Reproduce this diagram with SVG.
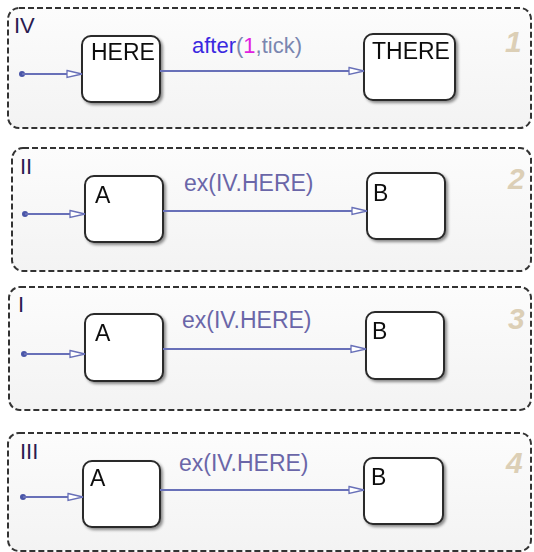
<svg xmlns="http://www.w3.org/2000/svg" width="534" height="552" viewBox="0 0 534 552">
<defs>
<linearGradient id="pbg" x1="0" y1="0" x2="0" y2="1">
<stop offset="0" stop-color="#fcfcfc"/><stop offset="1" stop-color="#f3f3f3"/>
</linearGradient>
<filter id="sh" x="-20%" y="-20%" width="150%" height="150%">
<feGaussianBlur in="SourceAlpha" stdDeviation="1.5"/>
<feOffset dx="2" dy="2" result="b"/>
<feComponentTransfer><feFuncA type="linear" slope="0.45"/></feComponentTransfer>
<feMerge><feMergeNode/><feMergeNode in="SourceGraphic"/></feMerge>
</filter>
<marker id="ah" markerWidth="18" markerHeight="10" refX="16" refY="5" orient="auto" markerUnits="userSpaceOnUse">
<path d="M1,1.5 L16,5 L1,8.5 Z" fill="#ffffff" stroke="#6870b8" stroke-width="1.3"/>
</marker>
</defs>
<style>
.panel{fill:url(#pbg);stroke:#333;stroke-width:2;stroke-dasharray:6,3}
.box{fill:#ffffff;stroke:#2a2a2a;stroke-width:2}
.tr{fill:none;stroke:#6870b8;stroke-width:1.8}
.dot{fill:#4a56a8}
.t{font-family:"Liberation Sans",Arial,sans-serif;font-size:23px;fill:#111}
.pl{font-family:"Liberation Sans",Arial,sans-serif;font-size:22px;fill:#2a1a50}
.lab{font-family:"Liberation Sans",Arial,sans-serif;font-size:23px;fill:#6a66a8}
.num{font-family:"Liberation Sans",Arial,sans-serif;font-size:30px;font-weight:bold;font-style:italic;fill:#dccfb6}
</style>

<g id="panel1">
<rect class="panel" x="8" y="8" width="523" height="120" rx="11"/>
<text class="pl" x="14" y="33">IV</text>
<text class="num" x="505" y="52">1</text>
</g>
<g id="HERE" filter="url(#sh)">
<rect class="box" x="82" y="36" width="78" height="66" rx="9"/>
<text class="t" x="91" y="60">HERE</text>
</g>
<g id="THERE" filter="url(#sh)">
<rect class="box" x="364" y="34" width="91" height="66" rx="9"/>
<text class="t" x="372" y="59">THERE</text>
</g>

<g id="panel2">
<rect class="panel" x="12" y="148" width="519" height="123" rx="11"/>
<text class="pl" x="20" y="174">II</text>
<text class="num" x="508" y="189">2</text>
</g>
<g id="A2" filter="url(#sh)">
<rect class="box" x="85" y="176" width="78" height="66" rx="9"/>
<text class="t" x="95" y="203">A</text>
</g>
<g id="B2" filter="url(#sh)">
<rect class="box" x="367" y="173" width="78" height="66" rx="9"/>
<text class="t" x="373" y="201">B</text>
</g>

<g id="panel3">
<rect class="panel" x="9" y="287" width="522" height="123" rx="11"/>
<text class="pl" x="18" y="312">I</text>
<text class="num" x="508" y="329">3</text>
</g>
<g id="A3" filter="url(#sh)">
<rect class="box" x="85" y="314" width="78" height="67" rx="9"/>
<text class="t" x="95" y="341">A</text>
</g>
<g id="B3" filter="url(#sh)">
<rect class="box" x="366" y="312" width="78" height="67" rx="9"/>
<text class="t" x="372" y="339">B</text>
</g>

<g id="panel4">
<rect class="panel" x="8" y="433" width="523" height="118" rx="11"/>
<text class="pl" x="20" y="459">III</text>
<text class="num" x="506" y="473">4</text>
</g>
<g id="A4" filter="url(#sh)">
<rect class="box" x="83" y="461" width="77" height="66" rx="9"/>
<text class="t" x="90" y="486">A</text>
</g>
<g id="B4" filter="url(#sh)">
<rect class="box" x="364" y="458" width="79" height="66" rx="9"/>
<text class="t" x="371" y="485">B</text>
</g>

<g id="connectors">
<circle class="dot" cx="22" cy="74" r="3"/>
<path class="tr" d="M22,74 L82,74" marker-end="url(#ah)"/>
<path class="tr" d="M160,71 L364,71" marker-end="url(#ah)"/>
<text x="192" y="53" font-family="Liberation Sans, Arial, sans-serif" font-size="22"><tspan fill="#3a28e0">after</tspan><tspan fill="#7a86b0">(</tspan><tspan fill="#e020e0">1</tspan><tspan fill="#7a86b0">,tick)</tspan></text>

<circle class="dot" cx="25" cy="214" r="3"/>
<path class="tr" d="M25,214 L85,214" marker-end="url(#ah)"/>
<path class="tr" d="M163,211 L367,211" marker-end="url(#ah)"/>
<text class="lab" x="184" y="191">ex(IV.HERE)</text>

<circle class="dot" cx="24" cy="354" r="3"/>
<path class="tr" d="M24,354 L85,354" marker-end="url(#ah)"/>
<path class="tr" d="M163,349 L366,349" marker-end="url(#ah)"/>
<text class="lab" x="182" y="328">ex(IV.HERE)</text>

<circle class="dot" cx="23" cy="497" r="3"/>
<path class="tr" d="M23,497 L83,497" marker-end="url(#ah)"/>
<path class="tr" d="M160,490 L364,490" marker-end="url(#ah)"/>
<text class="lab" x="179" y="471">ex(IV.HERE)</text>
</g>
</svg>
